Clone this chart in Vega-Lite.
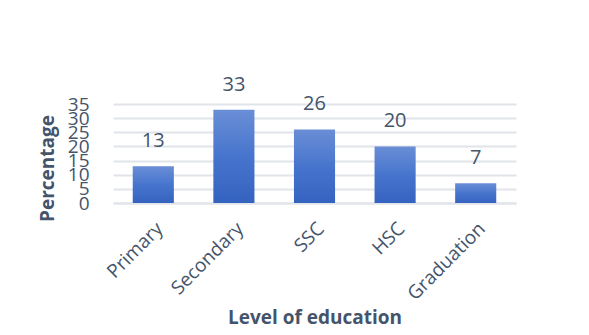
{
  "$schema": "https://vega.github.io/schema/vega-lite/v6.json",
  "width": 403,
  "height": 99,
  "autosize": {"type": "none"},
  "padding": {"left": 113, "top": 104, "right": 73, "bottom": 132},
  "background": "white",
  "config": {
    "view": {"stroke": null},
    "font": "Open Sans"
  },
  "data": {
    "values": [
      {"level": "Primary", "pct": 13},
      {"level": "Secondary", "pct": 33},
      {"level": "SSC", "pct": 26},
      {"level": "HSC", "pct": 20},
      {"level": "Graduation", "pct": 7}
    ]
  },
  "encoding": {
    "x": {
      "field": "level",
      "type": "nominal",
      "sort": null,
      "scale": {"paddingInner": 0.49, "paddingOuter": 0.245},
      "axis": {
        "title": "Level of education",
        "titleFont": "Open Sans",
        "titleFontSize": 19,
        "titleFontWeight": "bold",
        "titleColor": "#44546A",
        "titleY": 114,
        "titleBaseline": "middle",
        "labelAngle": -45,
        "labelFontSize": 19,
        "labelColor": "#44546A",
        "labelPadding": 16,
        "ticks": false,
        "domain": true,
        "domainColor": "#E1E4E9",
        "domainWidth": 2
      }
    },
    "y": {
      "field": "pct",
      "type": "quantitative",
      "scale": {"domain": [0, 35], "nice": false},
      "axis": {
        "title": "Percentage",
        "titleFont": "Open Sans",
        "titleFontSize": 19,
        "titleFontWeight": "bold",
        "titleColor": "#44546A",
        "titleX": -66,
        "titleY": 64,
        "titleAngle": -90,
        "titleBaseline": "middle",
        "titleAlign": "center",
        "values": [0, 5, 10, 15, 20, 25, 30, 35],
        "labelFontSize": 19,
        "labelColor": "#44546A",
        "labelPadding": 24,
        "labelOverlap": false,
        "labelBaseline": "middle",
        "ticks": false,
        "domain": false,
        "grid": true,
        "gridColor": "#E1E4E9",
        "gridWidth": 2
      }
    }
  },
  "layer": [
    {
      "mark": {
        "type": "bar",
        "color": {
          "gradient": "linear",
          "x1": 0, "y1": 0, "x2": 0, "y2": 1,
          "stops": [
            {"offset": 0, "color": "#6A8ED6"},
            {"offset": 0.5, "color": "#4775CD"},
            {"offset": 1, "color": "#3462BF"}
          ]
        }
      }
    },
    {
      "mark": {
        "type": "text",
        "dy": -25,
        "baseline": "middle",
        "fontSize": 20,
        "color": "#44546A"
      },
      "encoding": {"text": {"field": "pct", "type": "quantitative"}}
    }
  ]
}
